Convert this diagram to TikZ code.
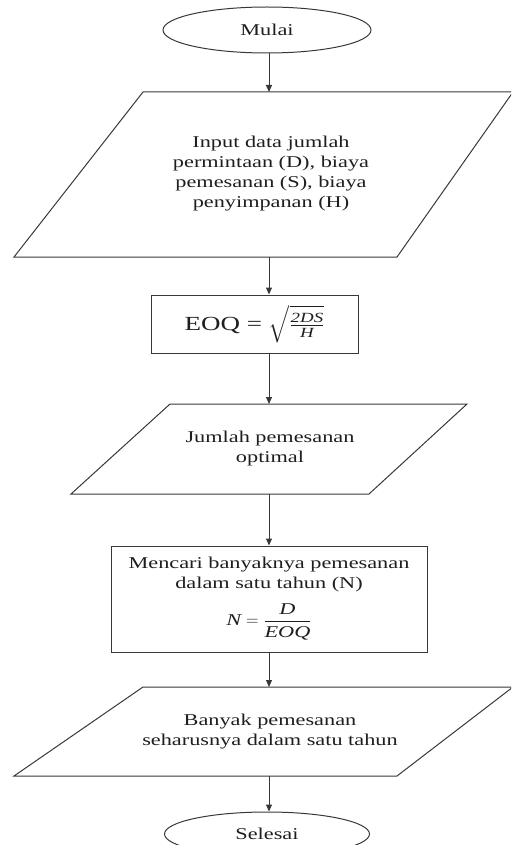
\documentclass[tikz,border=0pt]{standalone}
\usepackage{amsmath}
\usepackage{fontspec}
\setmainfont{Liberation Serif}[FakeStretch=1.35]
\usetikzlibrary{shapes.geometric,arrows.meta}
\definecolor{ln}{HTML}{383838}
\definecolor{tx}{HTML}{1E1E1E}
\newcommand{\mi}[1]{\text{\itshape #1}}
\begin{document}
\begin{tikzpicture}[x=1pt,y=-1pt,
  line/.style={draw=ln,line width=1pt},
  arr/.style={draw=ln,line width=1pt,-{Triangle[length=7pt,width=6pt]}},
  body/.style={font=\fontsize{16.5}{20}\selectfont},
  term/.style={ellipse,line,inner sep=0pt,text=tx,body},
  proc/.style={rectangle,line,inner sep=0pt,text=tx,align=center,body},
  txt/.style={text=tx,align=center,inner sep=0pt,body}]
\useasboundingbox (0,0) rectangle (511,845);
\clip (0,0) rectangle (511,845);

% start
\node[term,minimum width=208pt,minimum height=46pt] (mulai) at (267,30) {Mulai};

% input parallelogram
\coordinate (in1t) at (269,92);
\coordinate (in1b) at (269,257);
\draw[line] (143,92) -- (513,92) -- (397,257) -- (14,257) -- cycle;
\node[txt] (in1) at (271,174) {Input data jumlah\\permintaan (D), biaya\\pemesanan (S), biaya\\penyimpanan (H)};

% EOQ
\node[proc,minimum width=207pt,minimum height=58pt] (eoq) at (254.5,324)
  {\fontsize{20}{24}\selectfont EOQ = $\sqrt{\frac{\mi{2DS}}{\mi{H}}}$};

% output parallelogram 2
\coordinate (in2t) at (269,404);
\coordinate (in2b) at (269,494);
\draw[line] (170,404) -- (467,404) -- (369,494) -- (71,494) -- cycle;
\node[txt] (in2) at (270,449) {Jumlah pemesanan\\optimal};

% calculation box
\node[proc,minimum width=316pt,minimum height=106pt] (calc) at (269,599) {};
\node[txt] (calct) at (269,574.5) {Mencari banyaknya pemesanan\\dalam satu tahun (N)};
\node[txt] (calcf) at (269,622) {$\displaystyle \mi{N} = \frac{\mi{D}}{\mi{EOQ}}$};

% output parallelogram 4
\coordinate (in4t) at (269,687);
\coordinate (in4b) at (269,776);
\draw[line] (143,687) -- (513,687) -- (397,776) -- (14,776) -- cycle;
\node[txt] (in4) at (270,731.5) {Banyak pemesanan\\seharusnya dalam satu tahun};

% end
\node[term,minimum width=205pt,minimum height=44pt] (selesai) at (267,834) {Selesai};

% connectors
\draw[arr] (mulai.south -| in1t) -- (in1t);
\draw[arr] (in1b) -- (eoq.north -| in1b);
\draw[arr] (eoq.south -| in1b) -- (in2t);
\draw[arr] (in2b) -- (calc.north);
\draw[arr] (calc.south) -- (in4t);
\draw[arr] (in4b) -- (selesai.north -| in4b);
\end{tikzpicture}
\end{document}
